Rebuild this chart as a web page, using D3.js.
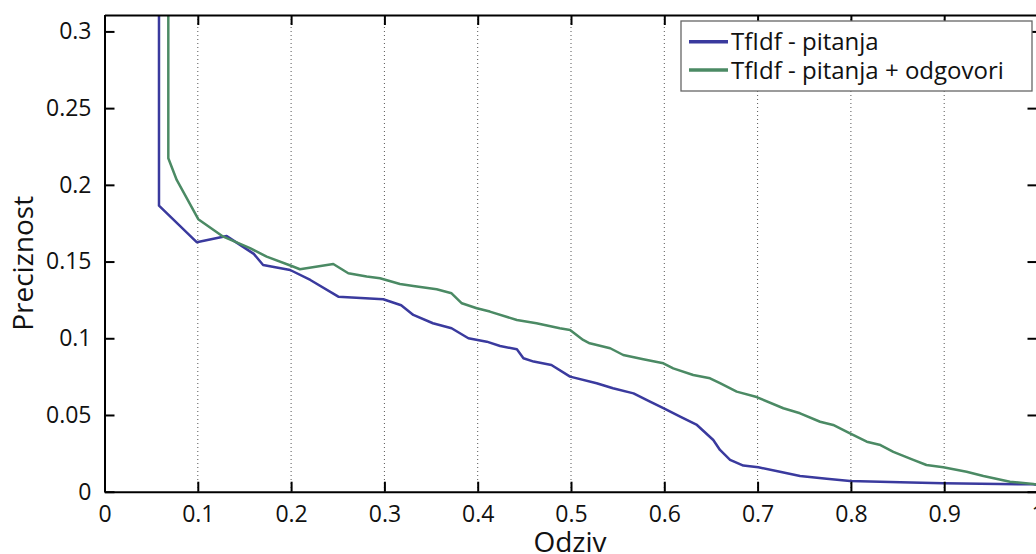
<!DOCTYPE html>
<html>
<head>
<meta charset="utf-8">
<script src="https://cdn.jsdelivr.net/npm/d3@7"></script>
<style>
  body { margin: 0; background: #fff; }
  text { font-family: "Open Sans", sans-serif; fill: #111; }
</style>
</head>
<body>
<div id="chart"></div>
<script>
const seriesNames = ['TfIdf - pitanja', 'TfIdf - pitanja + odgovori'];
const seriesColors = ['#3a3a9e', '#4b8a64'];

const recallQ = [0.0584, 0.0584, 0.0988, 0.131, 0.160, 0.170, 0.199, 0.2206, 0.2506, 0.2988, 0.318, 0.331, 0.352, 0.372, 0.390, 0.4097, 0.424, 0.442, 0.449, 0.46, 0.479, 0.499, 0.5275, 0.545, 0.567, 0.5847, 0.599, 0.617, 0.635, 0.6525, 0.6597, 0.6705, 0.6847, 0.7008, 0.724, 0.7455, 0.774, 0.799, 0.853, 0.899, 0.9955, 1.0];
const precisionQ = [0.32, 0.1864, 0.1626, 0.1666, 0.155, 0.1478, 0.1445, 0.138, 0.1271, 0.1254, 0.1215, 0.1152, 0.1098, 0.1065, 0.100, 0.0978, 0.095, 0.0928, 0.087, 0.0848, 0.0826, 0.075, 0.0707, 0.0674, 0.0641, 0.0587, 0.0544, 0.0489, 0.0435, 0.0337, 0.0272, 0.0207, 0.0170, 0.0159, 0.013, 0.0102, 0.0085, 0.007, 0.0061, 0.0055, 0.0048, 0.0045];

const recallQA = [0.0684, 0.0684, 0.0774, 0.1005, 0.1273, 0.156, 0.1738, 0.2006, 0.2095, 0.2452, 0.2613, 0.281, 0.2953, 0.3167, 0.331, 0.356, 0.372, 0.383, 0.399, 0.413, 0.442, 0.463, 0.488, 0.499, 0.513, 0.520, 0.542, 0.556, 0.5775, 0.599, 0.6096, 0.631, 0.649, 0.6597, 0.6776, 0.699, 0.7276, 0.7455, 0.767, 0.781, 0.799, 0.817, 0.8317, 0.8455, 0.8669, 0.881, 0.899, 0.924, 0.942, 0.9705, 0.9955, 1.0];
const precisionQA = [0.32, 0.2173, 0.2032, 0.1776, 0.1662, 0.1587, 0.1532, 0.1471, 0.145, 0.1484, 0.1424, 0.1402, 0.1391, 0.1354, 0.1341, 0.1319, 0.1293, 0.1228, 0.1196, 0.1174, 0.1119, 0.1098, 0.1065, 0.1054, 0.0989, 0.0967, 0.0935, 0.0891, 0.0863, 0.0837, 0.0804, 0.0761, 0.0739, 0.0707, 0.0652, 0.0617, 0.0544, 0.0511, 0.0456, 0.0435, 0.038, 0.0326, 0.0304, 0.026, 0.0207, 0.0174, 0.0159, 0.013, 0.0102, 0.0065, 0.005, 0.0045];

const xTicks = [0, 0.1, 0.2, 0.3, 0.4, 0.5, 0.6, 0.7, 0.8, 0.9, 1];
const xTickLabels = ['0', '0.1', '0.2', '0.3', '0.4', '0.5', '0.6', '0.7', '0.8', '0.9', '1'];
const yTicks = [0, 0.05, 0.1, 0.15, 0.2, 0.25, 0.3];
const yTickLabels = ['0', '0.05', '0.1', '0.15', '0.2', '0.25', '0.3'];

const draw = () => {
  const W = 1036, H = 554;
  const left = 104.5, right = 1037.5, top = 15, bottom = 491.7;
  const svg = d3.select('#chart')
    .append('svg')
    .attr('width', W)
    .attr('height', H);

  const x = d3.scaleLinear().domain([0, 1]).range([left, right]);
  const y = d3.scaleLinear().domain([0, 0.3107]).range([bottom, top]);

  // dotted grid
  svg.append('g')
    .selectAll('line')
    .data(xTicks.slice(1, -1))
    .join('line')
    .attr('x1', d => x(d)).attr('x2', d => x(d))
    .attr('y1', top).attr('y2', bottom)
    .attr('stroke', '#555')
    .attr('stroke-width', 1)
    .attr('stroke-dasharray', '1,3');

  // lines
  svg.append('defs').append('clipPath').attr('id', 'clip')
    .append('rect').attr('x', left).attr('y', top).attr('width', right - left).attr('height', bottom - top);
  const line = d3.line().x(d => x(d[0])).y(d => y(d[1]));
  const series = [d3.zip(recallQ, precisionQ), d3.zip(recallQA, precisionQA)];
  svg.append('g')
    .attr('clip-path', 'url(#clip)')
    .selectAll('path')
    .data(series)
    .join('path')
    .attr('d', line)
    .attr('fill', 'none')
    .attr('stroke', (d, i) => seriesColors[i])
    .attr('stroke-width', 2.5)
    .attr('stroke-linejoin', 'round');

  // axes (box)
  const xAxis = d3.axisBottom(x).tickValues(xTicks).tickFormat((d, i) => xTickLabels[i]).tickSizeInner(-10).tickSizeOuter(0).tickPadding(14);
  const yAxis = d3.axisLeft(y).tickValues(yTicks).tickFormat((d, i) => yTickLabels[i]).tickSizeInner(-10).tickSizeOuter(0).tickPadding(13);
  const styleAxis = g => {
    g.select('.domain').attr('stroke', '#000').attr('stroke-width', 2);
    g.selectAll('.tick line').attr('stroke', '#000').attr('stroke-width', 2);
    g.selectAll('text').style('font-family', '"Open Sans", sans-serif').style('font-size', '23px').attr('fill', '#111');
  };
  svg.append('g').attr('transform', `translate(0,${bottom})`).call(xAxis).call(styleAxis);
  svg.append('g').attr('transform', `translate(${left},0)`).call(yAxis).call(styleAxis);
  svg.append('g').attr('transform', `translate(0,${top})`)
    .call(d3.axisTop(x).tickValues(xTicks).tickFormat('').tickSizeInner(-10).tickSizeOuter(0)).call(styleAxis);
  svg.append('g').attr('transform', `translate(${right},0)`)
    .call(d3.axisRight(y).tickValues(yTicks).tickFormat('').tickSizeInner(-10).tickSizeOuter(0)).call(styleAxis);

  // axis titles
  svg.append('text')
    .attr('x', x(0.5) - 1)
    .attr('y', 552)
    .attr('text-anchor', 'middle')
    .style('font-size', '28px')
    .text('Odziv');
  svg.append('text')
    .attr('transform', `translate(33,${(top + bottom) / 2 + 10}) rotate(-90)`)
    .attr('text-anchor', 'middle')
    .style('font-size', '28px')
    .text('Preciznost');

  // legend
  const lg = svg.append('g');
  lg.append('rect')
    .attr('x', 681).attr('y', 21)
    .attr('width', 351).attr('height', 70)
    .attr('fill', '#fff')
    .attr('stroke', '#666')
    .attr('stroke-width', 1.3);
  const rows = lg.selectAll('g.row')
    .data(seriesNames)
    .join('g')
    .attr('class', 'row')
    .attr('transform', (d, i) => `translate(0,${41.7 + i * 28.3})`);
  rows.append('line')
    .attr('x1', 689).attr('x2', 728)
    .attr('stroke', (d, i) => seriesColors[i])
    .attr('stroke-width', 3.5);
  rows.append('text')
    .attr('x', 731)
    .attr('y', 8.5)
    .style('font-size', '24px')
    .text(d => d);
};

draw();
</script>
</body>
</html>
